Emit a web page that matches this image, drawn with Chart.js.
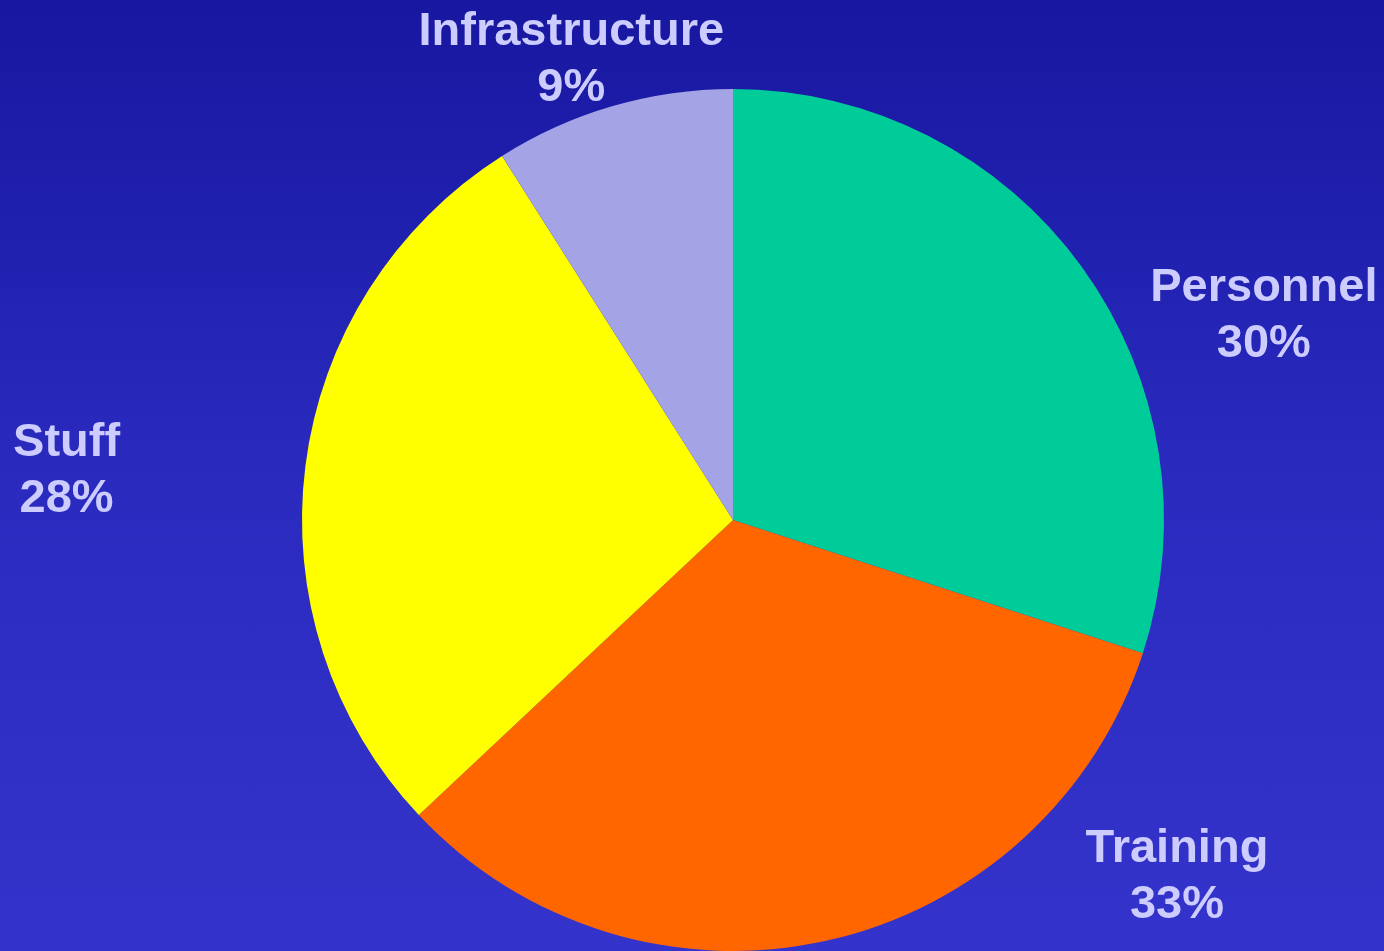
<!DOCTYPE html>
<html>
<head>
<meta charset="utf-8">
<script src="https://cdn.jsdelivr.net/npm/chart.js@4/dist/chart.umd.min.js"></script>
<style>
  html, body { margin: 0; padding: 0; }
  body { width: 1384px; height: 951px; overflow: hidden;
         background: linear-gradient(to bottom, #1717a0 0%, #2a2abf 50%, #3434cc 100%); }
  canvas { display: block; }
</style>
</head>
<body>
<canvas id="c" width="1384" height="951"></canvas>
<script>
const categories = ["Personnel", "Training", "Stuff", "Infrastructure"];
const shares = [30, 33, 28, 9];
const sliceColors = ["#00cc99", "#ff6600", "#ffff00", "#a3a3e6"];

// label placement: angle (degrees clockwise from top) and distance as multiple of radius
const labelPlacement = [
  { angle: 68.7, dist: 1.322 },
  { angle: 128.6, dist: 1.318 },
  { angle: 274.5, dist: 1.551 },
  { angle: 340.75, dist: 1.138 }
];

const labelPlugin = {
  id: 'sliceLabels',
  afterDraw(chart) {
    const ctx = chart.ctx;
    const meta = chart.getDatasetMeta(0);
    ctx.save();
    ctx.fillStyle = '#ccccff';
    ctx.font = 'bold 47px "Liberation Sans", Arial, sans-serif';
    ctx.textAlign = 'center';
    ctx.textBaseline = 'middle';
    meta.data.forEach((arc, i) => {
      const p = labelPlacement[i];
      const a = p.angle * Math.PI / 180;
      const x = arc.x + Math.sin(a) * arc.outerRadius * p.dist;
      const y = arc.y - Math.cos(a) * arc.outerRadius * p.dist + 3;
      ctx.fillText(categories[i], x, y - 28);
      ctx.fillText(shares[i] + '%', x, y + 28);
    });
    ctx.restore();
  }
};

new Chart(document.getElementById('c'), {
  type: 'pie',
  data: {
    labels: categories,
    datasets: [{
      data: shares,
      backgroundColor: sliceColors,
      borderWidth: 0
    }]
  },
  options: {
    responsive: false,
    animation: false,
    layout: { padding: { left: 82, top: 89, right: 0, bottom: 0 } },
    plugins: { legend: { display: false }, tooltip: { enabled: false } }
  },
  plugins: [labelPlugin]
});
</script>
</body>
</html>
